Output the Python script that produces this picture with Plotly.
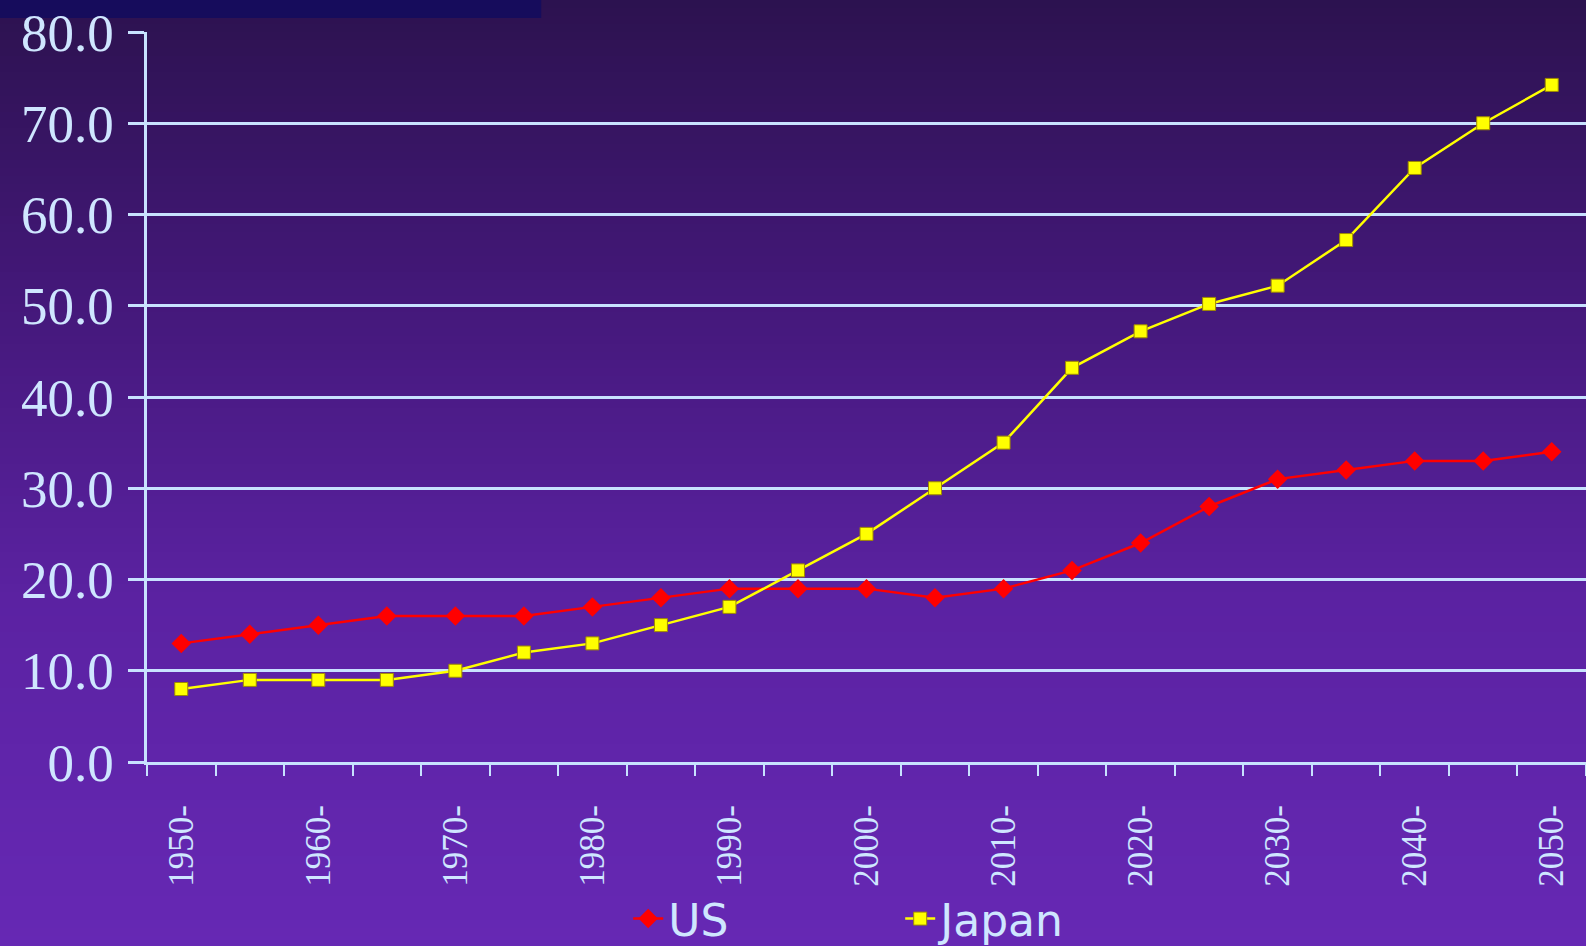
import plotly.graph_objects as go

years = [1950, 1955, 1960, 1965, 1970, 1975, 1980, 1985, 1990, 1995, 2000,
         2005, 2010, 2015, 2020, 2025, 2030, 2035, 2040, 2045, 2050]
us = [13, 14, 15, 16, 16, 16, 17, 18, 19, 19, 19,
      18, 19, 21, 24, 28, 31, 32, 33, 33, 34]
japan = [8, 9, 9, 9, 10, 12, 13, 15, 17, 21, 25,
         30, 35, 43.2, 47.2, 50.2, 52.2, 57.2, 65.1, 70, 74.2]
label_years = [1950, 1960, 1970, 1980, 1990, 2000, 2010, 2020, 2030, 2040, 2050]
label_text = [f"{y}-" for y in label_years]

W, H = 1586, 946
L, R, T, B = 146.7, 0, 32, 184
pw = W - L - R
ph = H - T - B

def px2paper_x(px):
    return (px - L) / pw

def px2paper_y(py):
    return (H - B - py) / ph

# background gradient stops (pixel y, rgb)
stops = [(0, (44, 18, 79)), (300, (68, 24, 122)), (600, (91, 34, 162)), (946, (102, 40, 180))]

def color_at(py):
    for (y0, c0), (y1, c1) in zip(stops[:-1], stops[1:]):
        if y0 <= py <= y1:
            t = (py - y0) / (y1 - y0)
            return "rgb(%d,%d,%d)" % tuple(round(a + (b - a) * t) for a, b in zip(c0, c1))
    return "rgb(%d,%d,%d)" % stops[-1][1]

shapes = []
band = 8
for py in range(0, H, band):
    shapes.append(dict(type="rect", xref="paper", yref="paper", layer="below",
                       x0=px2paper_x(-2), x1=px2paper_x(W + 2),
                       y0=px2paper_y(py + band + 1), y1=px2paper_y(py),
                       fillcolor=color_at(py + band / 2), line=dict(width=0)))
# dark bar top-left
shapes.append(dict(type="rect", xref="paper", yref="paper", layer="below",
                   x0=px2paper_x(-2), x1=px2paper_x(541),
                   y0=px2paper_y(18), y1=px2paper_y(-2),
                   fillcolor="#160c5c", line=dict(width=0)))

txt = "#cfe6ff"
grid = "#c8e2ff"
serif = "Liberation Serif, Times New Roman, serif"

fig = go.Figure()
fig.add_trace(go.Scatter(x=years, y=us, name="US", mode="lines+markers",
                         line=dict(color="#ff0000", width=2.5),
                         marker=dict(symbol="diamond", size=15, color="#ff0000")))
fig.add_trace(go.Scatter(x=years, y=japan, name="Japan", mode="lines+markers",
                         line=dict(color="#ffff00", width=2.5),
                         marker=dict(symbol="square", size=13, color="#ffff00",
                                     line=dict(color="#a08a00", width=1))))

fig.update_layout(
    width=W, height=H,
    margin=dict(l=L, r=R, t=T, b=B, autoexpand=False),
    paper_bgcolor="rgb(102,40,180)",
    plot_bgcolor="rgba(0,0,0,0)",
    shapes=shapes,
    showlegend=True,
    legend=dict(orientation="h", x=px2paper_x(628), xanchor="left",
                y=px2paper_y(919), yanchor="middle",
                font=dict(family="DejaVu Sans", size=44, color=txt),
                bgcolor="rgba(0,0,0,0)", entrywidth=227, itemwidth=30),
    xaxis=dict(range=[1947.5, 2052.5], tickmode="array", tickvals=label_years,
               ticktext=label_text, tickangle=-90, ticks="", showgrid=False,
               zeroline=False, showline=True, linecolor=grid, linewidth=3,
               tickfont=dict(family=serif, size=35, color=txt),
               ticklabelstandoff=26, automargin=False,
               minor=dict(tickmode="array",
                          tickvals=[1947.5 + 5 * k for k in range(22)],
                          ticks="outside", ticklen=11, tickwidth=2,
                          tickcolor=grid, showgrid=False)),
    yaxis=dict(range=[0, 80], tickmode="linear", tick0=0, dtick=10,
               tickformat=".1f", showgrid=True, gridcolor=grid, gridwidth=2.5,
               zeroline=False, showline=True, linecolor=grid, linewidth=2.5,
               mirror=True,
               ticks="outside", ticklen=16, tickwidth=2.5, tickcolor=grid,
               tickfont=dict(family=serif, size=53, color=txt),
               ticklabelstandoff=4, automargin=False),
)

fig.write_html("out.html", config={"displayModeBar": False},
               post_script="document.body.style.margin='0';document.body.style.overflow='hidden';")
